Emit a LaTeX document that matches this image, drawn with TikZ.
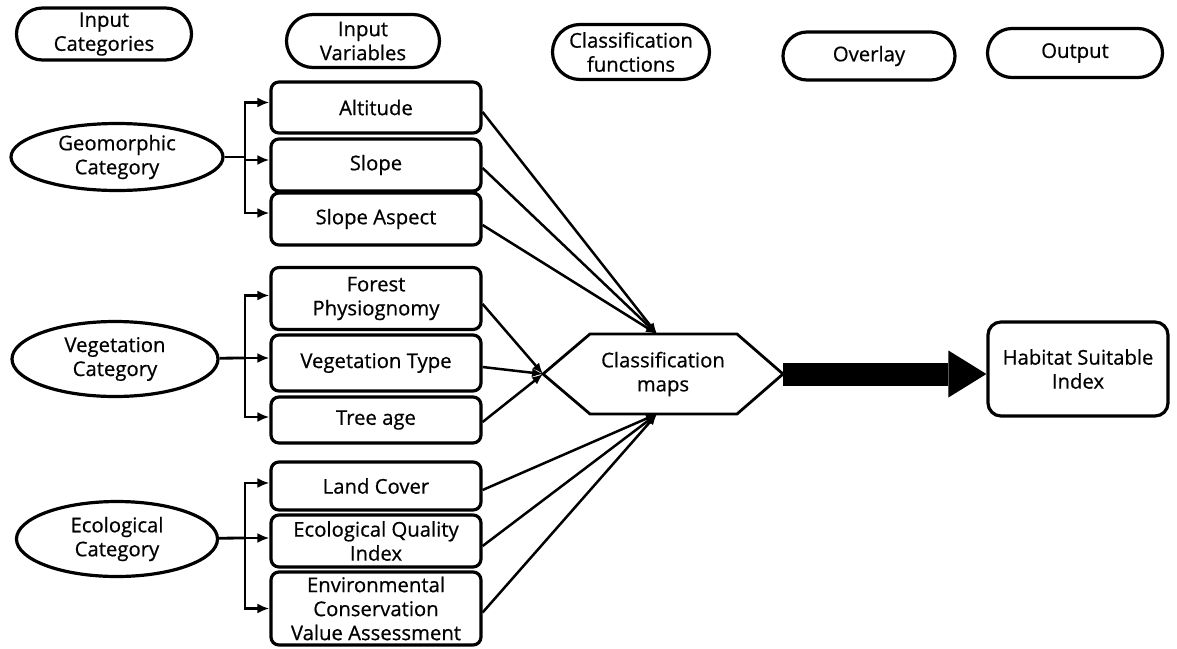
\documentclass[tikz,border=0pt]{standalone}
\usepackage{fontspec}
\setmainfont{Open Sans}[FakeBold=0.6]
\usetikzlibrary{shapes.geometric,shapes.misc,arrows.meta}
\begin{document}
\begin{tikzpicture}[x=1pt,y=-1pt,
  base/.style={line width=3.2pt, align=center, font=\fontsize{20.3}{24}\selectfont, inner sep=0pt},
  pill/.style={base, draw, rounded rectangle},
  catell/.style={base, draw, ellipse},
  varbox/.style={base, draw, rounded corners=8pt, minimum width=210pt},
  brarrow/.style={line width=2.8pt, -{Latex[length=12pt,width=10pt]}},
  convline/.style={line width=2.5pt, -{Latex[length=11pt,width=9pt]}},
]
\useasboundingbox[fill=white] (0,0) rectangle (1177,648);

% headers
\node[pill, minimum width=175pt, minimum height=52pt] (hic) at (104,34) {Input\\Categories};
\node[pill, minimum width=153pt, minimum height=53pt] (hiv) at (363,41) {Input\\Variables};
\node[pill, minimum width=157pt, minimum height=55pt] (hcf) at (631,52) {Classification\\functions};
\node[pill, minimum width=172pt, minimum height=48pt] (hov) at (869,56) {Overlay};
\node[pill, minimum width=175pt, minimum height=49pt] (hout) at (1075,53) {Output};

% categories
\node[catell, minimum width=212pt, minimum height=67pt] (geo) at (117,157) {Geomorphic\\Category};
\node[catell, minimum width=206pt, minimum height=75pt] (veg) at (115,359) {Vegetation\\Category};
\node[catell, minimum width=201pt, minimum height=75pt] (eco) at (117,539) {Ecological\\Category};

% variables
\node[varbox, minimum height=51pt] (alt) at (376,107.5) {Altitude};
\node[varbox, minimum height=52pt] (slope) at (376,165) {Slope};
\node[varbox, minimum height=52pt] (asp) at (376,219) {Slope Aspect};
\node[varbox, minimum height=62pt] (fp) at (376,298.5) {Forest\\Physiognomy};
\node[varbox, minimum height=56pt] (vt) at (376,363) {Vegetation Type};
\node[varbox, minimum height=46pt] (ta) at (376,420) {Tree age};
\node[varbox, minimum height=48pt] (lc) at (376,486) {Land Cover};
\node[varbox, minimum height=52pt] (eqi) at (376,541) {Ecological Quality\\Index};
\node[varbox, minimum height=73pt] (ecva) at (376,608.5) {Environmental\\Conservation\\Value Assessment};

% branch connectors
\coordinate (gj) at (245,157);
\coordinate (vj) at (245,358);
\coordinate (ej) at (245,538);
\draw[line width=2.8pt] (geo) -- (gj);
\draw[brarrow] (gj) |- ([yshift=5pt]alt.west);
\draw[brarrow] (gj) |- ([yshift=5pt]slope.west);
\draw[brarrow] (gj) |- ([yshift=6pt]asp.west);
\draw[line width=2.8pt] (veg) -- (vj);
\draw[brarrow] (vj) |- ([yshift=3pt]fp.west);
\draw[brarrow] (vj) |- ([yshift=5pt]vt.west);
\draw[brarrow] (vj) |- ([yshift=3pt]ta.west);
\draw[line width=2.8pt] (eco) -- (ej);
\draw[brarrow] (ej) |- ([yshift=3pt]lc.west);
\draw[brarrow] (ej) |- ([yshift=3pt]eqi.west);
\draw[brarrow] (ej) |- ([yshift=0pt]ecva.west);

% classification maps hexagon
\node[base] (cm) at (663,374) {Classification\\maps};
\coordinate (cmL) at (543,374);
\coordinate (cmR) at (783,374);
\coordinate (cmT) at (657,334);
\coordinate (cmB) at (657,414);
\draw[line width=2.8pt, line join=miter] (cmL) -- (590,334) -- (737,334) -- (cmR) -- (737,414) -- (590,414) -- cycle;

% converging lines
\draw[convline] ([yshift=-4.5pt]alt.east) -- (cmT);
\draw[convline] ([yshift=-3pt]slope.east) -- (cmT);
\draw[convline] ([yshift=-6pt]asp.east) -- (cmT);
\draw[convline] ([yshift=-5.5pt]fp.east) -- (cmL);
\draw[convline] ([yshift=-4pt]vt.east) -- (cmL);
\draw[convline] ([yshift=-2pt]ta.east) -- (cmL);
\draw[convline] ([yshift=-4pt]lc.east) -- (cmB);
\draw[convline] ([yshift=-5pt]eqi.east) -- (cmB);
\draw[convline] ([yshift=-4pt]ecva.east) -- (cmB);

% output
\node[base, draw, rounded corners=13pt, minimum width=180pt, minimum height=94pt] (hsi) at (1078,369) {Habitat Suitable\\Index};
\draw[line width=23pt, -{Triangle[length=38pt,width=47pt,line width=0pt]}] (cmR) -- (hsi.west |- cmR);
\end{tikzpicture}
\end{document}
